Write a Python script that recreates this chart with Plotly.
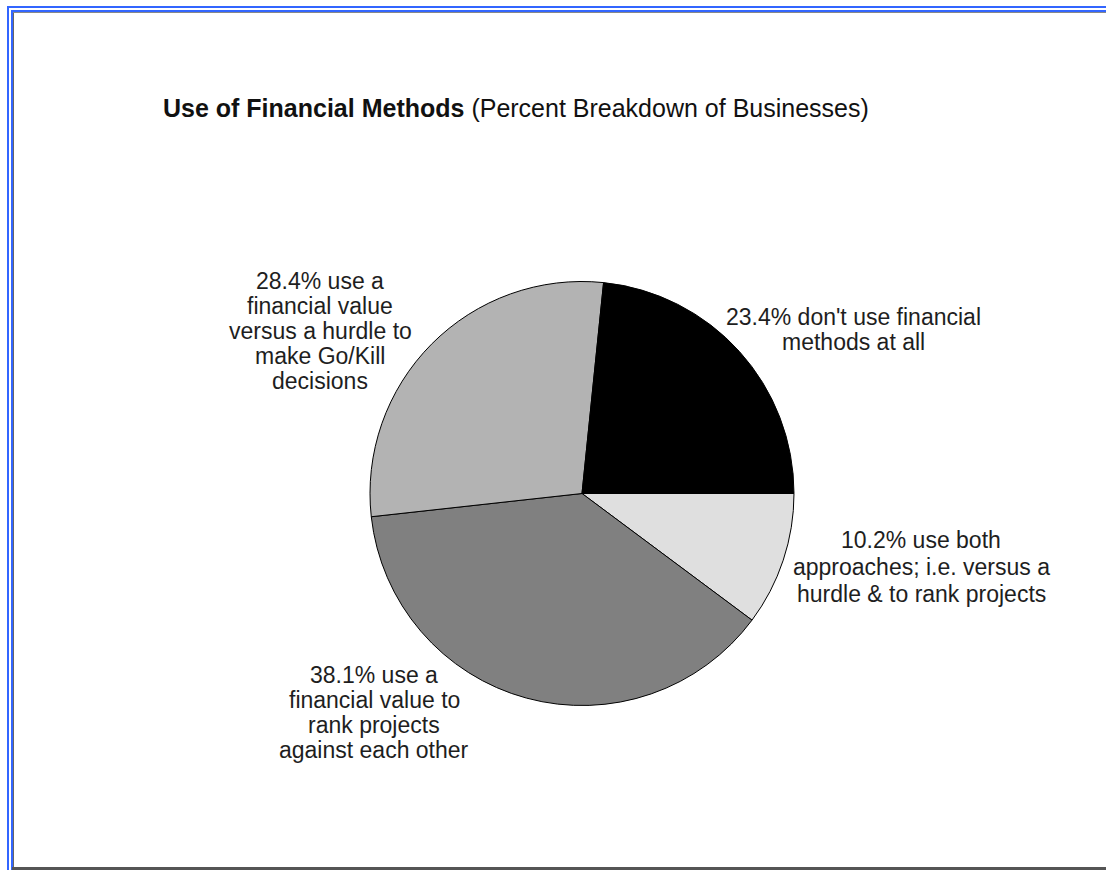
import plotly.graph_objects as go

# Share of businesses by how they use financial methods
categories = [
    "don't use financial methods at all",
    "use a financial value versus a hurdle to make Go/Kill decisions",
    "use a financial value to rank projects against each other",
    "use both approaches; i.e. versus a hurdle & to rank projects",
]
values = [23.4, 28.4, 38.1, 10.2]
slice_colors = ["#000000", "#b3b3b3", "#808080", "#dfdfdf"]

# Wrapped callout text for each slice (first line carries the value)
label_tails = [
    ["don't use financial", "methods at all"],
    ["use a", "financial value", "versus a hurdle to", "make Go/Kill", "decisions"],
    ["use a", "financial value to", "rank projects", "against each other"],
    ["use both", "approaches; i.e. versus a", "hurdle & to rank projects"],
]

W, H = 1106, 870


def px(x):
    return x / W


def py(y):
    return 1 - y / H


# Callout placement: (centre x, first line centre y, line pitch) in pixels
label_layout = [
    (853, 317, 25),
    (320, 281, 25),
    (374, 675, 25),
    (921, 540, 27),
]

# Slices run counterclockwise from 3 o'clock; drawn clockwise in reverse order
fig = go.Figure()
fig.add_trace(
    go.Pie(
        labels=categories[::-1],
        values=values[::-1],
        sort=False,
        direction="clockwise",
        rotation=90,
        marker=dict(colors=slice_colors[::-1], line=dict(color="#000000", width=1)),
        textinfo="none",
        hoverinfo="label+percent",
        showlegend=False,
        domain=dict(x=[px(370), px(794)], y=[py(706), py(281)]),
    )
)

annotations = []
font = dict(family="Liberation Sans, Arial, sans-serif", size=23, color="#1e1e1e")
for v, tail, (cx, cy, pitch) in zip(values, label_tails, label_layout):
    lines = [f"{v:.1f}% {tail[0]}"] + tail[1:]
    for i, line in enumerate(lines):
        annotations.append(
            dict(
                text=line,
                x=px(cx),
                y=py(cy + i * pitch),
                xref="paper",
                yref="paper",
                xanchor="center",
                yanchor="middle",
                showarrow=False,
                font=font,
            )
        )

annotations.append(
    dict(
        text="<b>Use of Financial Methods</b> (Percent Breakdown of Businesses)",
        x=px(161),
        y=py(108),
        xref="paper",
        yref="paper",
        xanchor="left",
        yanchor="middle",
        showarrow=False,
        font=dict(family="Liberation Sans, Arial, sans-serif", size=25, color="#111111"),
    )
)

# Page frame: double blue rule on top and left, dark rule at the bottom
blue = "#3366ff"
shapes = [
    dict(type="line", x0=px(7), x1=1, y0=py(7), y1=py(7), line=dict(color=blue, width=2)),
    dict(type="line", x0=px(11), x1=1, y0=py(11), y1=py(11), line=dict(color=blue, width=2)),
    dict(type="line", x0=px(8), x1=px(8), y0=py(6), y1=0, line=dict(color=blue, width=2)),
    dict(type="line", x0=px(12), x1=px(12), y0=py(10), y1=0, line=dict(color=blue, width=2)),
    dict(type="line", x0=px(13.5), x1=px(13.5), y0=py(12), y1=py(867), line=dict(color="#666666", width=1)),
    dict(type="line", x0=px(13), x1=1, y0=py(12.5), y1=py(12.5), line=dict(color="#888888", width=1)),
    dict(type="line", x0=px(12), x1=1, y0=py(868.5), y1=py(868.5), line=dict(color="#555555", width=3)),
]

fig.update_layout(
    width=W,
    height=H,
    margin=dict(l=0, r=0, t=0, b=0),
    paper_bgcolor="#ffffff",
    plot_bgcolor="#ffffff",
    annotations=annotations,
    shapes=shapes,
)

fig.write_html("out.html")
